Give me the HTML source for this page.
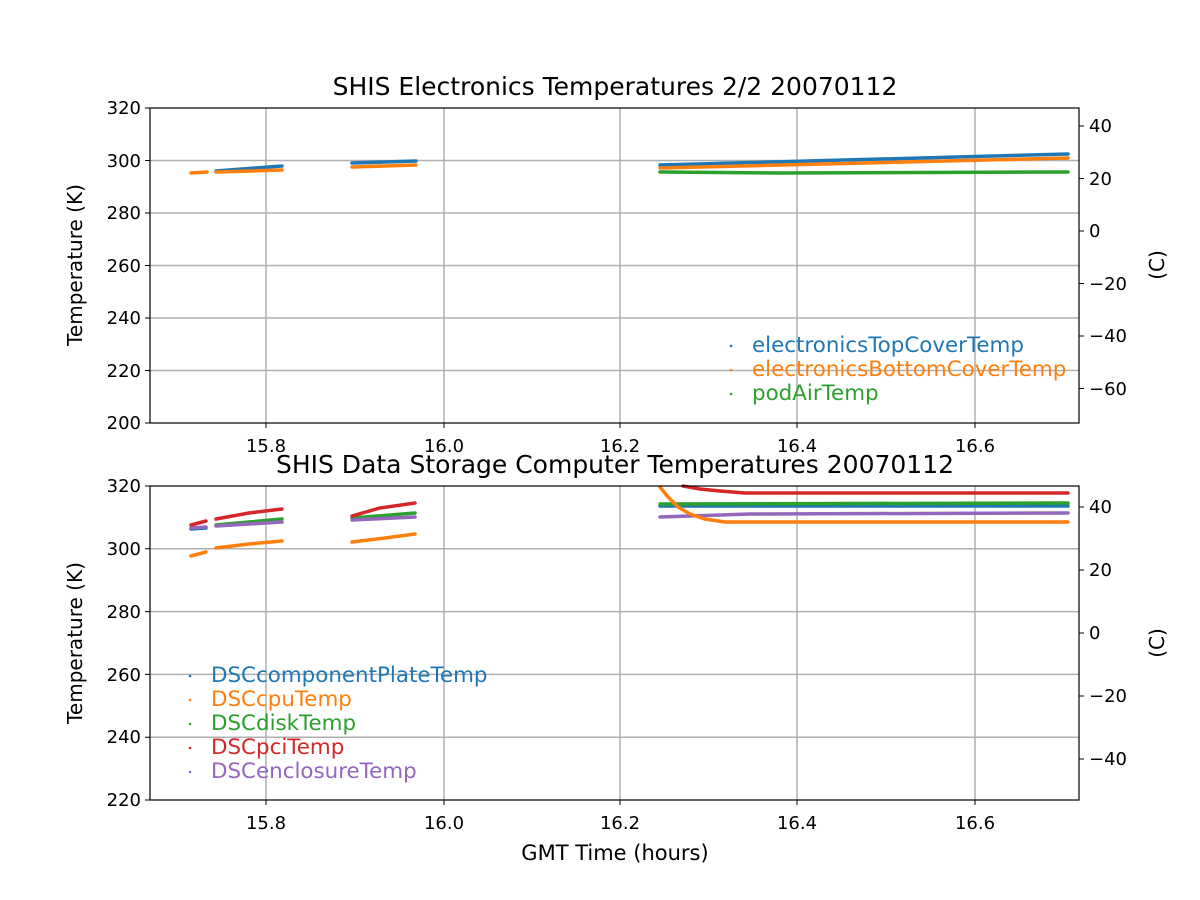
<!DOCTYPE html>
<html><head><meta charset="utf-8"><style>body{margin:0;background:#fff}svg{display:block}text{font-family:"DejaVu Sans","Liberation Sans",sans-serif;font-size:18px;fill:#000}</style></head><body>
<svg width="1200" height="900" viewBox="0 0 1200 900">
<rect width="1200" height="900" fill="#fff"/>
<g stroke="#b0b0b0" stroke-width="1.5">
<line x1="266" y1="108" x2="266" y2="423"/><line x1="444" y1="108" x2="444" y2="423"/><line x1="620" y1="108" x2="620" y2="423"/><line x1="797" y1="108" x2="797" y2="423"/><line x1="975" y1="108" x2="975" y2="423"/>
<line x1="150" y1="160.5" x2="1079" y2="160.5"/><line x1="150" y1="213" x2="1079" y2="213"/><line x1="150" y1="265.5" x2="1079" y2="265.5"/><line x1="150" y1="318" x2="1079" y2="318"/><line x1="150" y1="370.5" x2="1079" y2="370.5"/>
<line x1="266" y1="486" x2="266" y2="800"/><line x1="444" y1="486" x2="444" y2="800"/><line x1="620" y1="486" x2="620" y2="800"/><line x1="797" y1="486" x2="797" y2="800"/><line x1="975" y1="486" x2="975" y2="800"/>
<line x1="150" y1="548.8" x2="1079" y2="548.8"/><line x1="150" y1="611.6" x2="1079" y2="611.6"/><line x1="150" y1="674.4" x2="1079" y2="674.4"/><line x1="150" y1="737.2" x2="1079" y2="737.2"/>
</g>
<g fill="none" stroke-width="3.5" stroke-linecap="round">
<polyline stroke="#ff7f0e" points="191,173 207,172"/>
<polyline stroke="#1f77b4" points="216,171 282,166"/><polyline stroke="#ff7f0e" points="216,172 282,170"/>
<polyline stroke="#1f77b4" points="352,163 416,161"/><polyline stroke="#ff7f0e" points="352,167 416,165"/>
<polyline stroke="#1f77b4" points="660,165 1068,154"/><polyline stroke="#ff7f0e" points="660,168 1068,158"/>
<polyline stroke="#2ca02c" points="660,172 780,173 1068,172"/>
</g>
<g fill="none" stroke-width="3.5" stroke-linecap="round">
<polyline stroke="#1f77b4" points="191,529 206,528"/><polyline stroke="#9467bd" points="191,528 206,527"/><polyline stroke="#d62728" points="191,525 206,521"/><polyline stroke="#ff7f0e" points="191,556 206,552"/>
<polyline stroke="#2ca02c" points="216,525 249,522 282,519"/><polyline stroke="#9467bd" points="216,526 249,524 282,522"/><polyline stroke="#d62728" points="216,519 249,513 282,509"/><polyline stroke="#ff7f0e" points="216,548 249,544 282,541"/>
<polyline stroke="#2ca02c" points="352,518 415,513"/><polyline stroke="#9467bd" points="352,520 415,517"/><polyline stroke="#d62728" points="352,516 380,508 415,503"/><polyline stroke="#ff7f0e" points="352,542 385,538 415,534"/>
<polyline stroke="#1f77b4" points="660,506 1068,506"/><polyline stroke="#2ca02c" points="660,504 1068,503"/><polyline stroke="#9467bd" points="660,517 750,514 1068,513"/>
<polyline stroke="#d62728" points="683,486 700,489 720,491 745,493 1068,493"/>
<polyline stroke="#ff7f0e" points="660,487 668,497 678,507 690,514 705,519 725,522 1068,522"/>
</g>
<g fill="none" stroke="#000" stroke-width="1.2">
<rect x="150" y="108" width="929" height="315"/><rect x="150" y="486" width="929" height="314"/>
</g>
<g stroke="#000" stroke-width="1">
<path d="M266,423v5M444,423v5M620,423v5M797,423v5M975,423v5M266,800v5M444,800v5M620,800v5M797,800v5M975,800v5"/>
<path d="M150,108h-5M150,160.5h-5M150,213h-5M150,265.5h-5M150,318h-5M150,370.5h-5M150,423h-5"/>
<path d="M150,486h-5M150,548.8h-5M150,611.6h-5M150,674.4h-5M150,737.2h-5M150,800h-5"/>
<path d="M1079,126h5M1079,178.5h5M1079,231h5M1079,283.5h5M1079,336h5M1079,388.5h5"/>
<path d="M1079,507h5M1079,570h5M1079,633h5M1079,696h5M1079,759h5"/>
</g>
<g text-anchor="middle">
<text x="266" y="452">15.8</text><text x="444" y="452">16.0</text><text x="620" y="452">16.2</text><text x="797" y="452">16.4</text><text x="975" y="452">16.6</text>
<text x="266" y="829">15.8</text><text x="444" y="829">16.0</text><text x="620" y="829">16.2</text><text x="797" y="829">16.4</text><text x="975" y="829">16.6</text>
<text x="615" y="95" style="font-size:25px">SHIS Electronics Temperatures 2/2 20070112</text>
<text x="615" y="473" style="font-size:25px">SHIS Data Storage Computer Temperatures 20070112</text>
<text x="615" y="860" style="font-size:21px">GMT Time (hours)</text>
</g>
<g text-anchor="end">
<text x="141" y="114">320</text><text x="141" y="167">300</text><text x="141" y="219">280</text><text x="141" y="272">260</text><text x="141" y="324">240</text><text x="141" y="377">220</text><text x="141" y="429">200</text>
<text x="141" y="492">320</text><text x="141" y="555">300</text><text x="141" y="618">280</text><text x="141" y="681">260</text><text x="141" y="743">240</text><text x="141" y="806">220</text>
</g>
<g>
<text x="1089" y="132">40</text><text x="1089" y="185">20</text><text x="1089" y="237">0</text><text x="1089" y="290">−20</text><text x="1089" y="342">−40</text><text x="1089" y="395">−60</text>
<text x="1089" y="513">40</text><text x="1089" y="576">20</text><text x="1089" y="639">0</text><text x="1089" y="702">−20</text><text x="1089" y="765">−40</text>
</g>
<text transform="translate(82,265) rotate(-90)" text-anchor="middle" style="font-size:20px">Temperature (K)</text>
<text transform="translate(82,643) rotate(-90)" text-anchor="middle" style="font-size:20px">Temperature (K)</text>
<text transform="translate(1164,265) rotate(-90)" text-anchor="middle" style="font-size:20px">(C)</text>
<text transform="translate(1164,643) rotate(-90)" text-anchor="middle" style="font-size:20px">(C)</text>
<g>
<text x="752" y="352" style="fill:#1f77b4;font-size:21.4px">electronicsTopCoverTemp</text>
<text x="752" y="376" style="fill:#ff7f0e;font-size:21.4px">electronicsBottomCoverTemp</text>
<text x="752" y="400" style="fill:#2ca02c;font-size:21.4px">podAirTemp</text>
<text x="211" y="682" style="fill:#1f77b4;font-size:21.4px">DSCcomponentPlateTemp</text>
<text x="211" y="706" style="fill:#ff7f0e;font-size:21.4px">DSCcpuTemp</text>
<text x="211" y="730" style="fill:#2ca02c;font-size:21.4px">DSCdiskTemp</text>
<text x="211" y="754" style="fill:#d62728;font-size:21.4px">DSCpciTemp</text>
<text x="211" y="778" style="fill:#9467bd;font-size:21.4px">DSCenclosureTemp</text>
</g>
<g>
<circle cx="731" cy="346" r="1.3" fill="#1f77b4"/><circle cx="731" cy="370" r="1.3" fill="#ff7f0e"/><circle cx="731" cy="394" r="1.3" fill="#2ca02c"/>
<circle cx="190" cy="676" r="1.3" fill="#1f77b4"/><circle cx="190" cy="700" r="1.3" fill="#ff7f0e"/><circle cx="190" cy="724" r="1.3" fill="#2ca02c"/><circle cx="190" cy="748" r="1.3" fill="#d62728"/><circle cx="190" cy="772" r="1.3" fill="#9467bd"/>
</g>
</svg>
</body></html>
